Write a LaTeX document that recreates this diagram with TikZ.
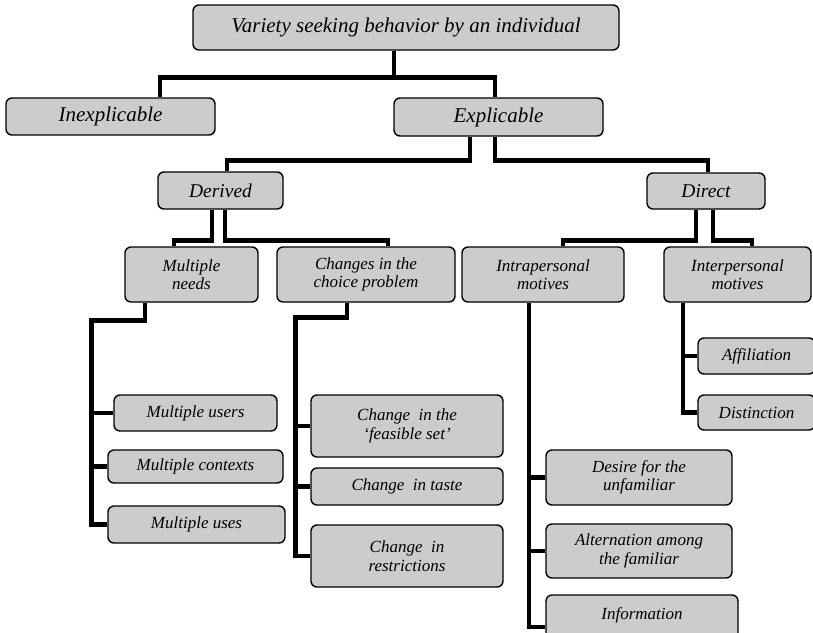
\documentclass[tikz,border=0pt]{standalone}
\usepackage{fontspec}
\setmainfont{Liberation Serif}
\usepackage{tikz}
\usetikzlibrary{positioning}

\tikzset{
  box/.style={draw=black, rounded corners=6pt, fill=black!20, line width=1.4pt,
    align=center, inner sep=0pt, font=\itshape\fontsize{17}{18.5}\selectfont},
  bigbox/.style={box, font=\itshape\fontsize{21}{23}\selectfont},
  midbox/.style={box, font=\itshape\fontsize{19.5}{21}\selectfont},
  conn/.style={line width=4.8pt, black}
}

\begin{document}
\begin{tikzpicture}[x=1pt,y=-1pt]
\useasboundingbox (0,0) rectangle (813,632);
\clip (0,0) rectangle (813,632);
\fill[white] (0,0) rectangle (813,632);

% top levels
\node[bigbox, minimum width=426, minimum height=45] (root) at (406,27.5) {Variety seeking behavior by an individual};
\node[bigbox, minimum width=209, minimum height=37] (inexp) at (110.5,116.5) {Inexplicable};
\node[bigbox, minimum width=209, minimum height=38] (expl) at (498.5,117) {Explicable};
\node[midbox, minimum width=125, minimum height=37] (derived) at (220.5,190.5) {Derived};
\node[midbox, minimum width=118, minimum height=36] (direct) at (706,191) {Direct};

% third level
\node[box, minimum width=133, minimum height=55] (mneeds) at (191.5,274.5) {Multiple\\needs};
\node[box, minimum width=178, minimum height=55] (changes) at (366,274.5) {Changes in the\\choice problem};
\node[box, minimum width=162, minimum height=55] (intra) at (543,274.5) {Intrapersonal\\motives};
\node[box, minimum width=147, minimum height=55] (inter) at (737.5,274.5) {Interpersonal\\motives};

% leaves
\node[box, minimum width=163, minimum height=36] (musers) at (195.5,413) {Multiple users};
\node[box, minimum width=175, minimum height=33] (mcontexts) at (195.5,466.5) {Multiple contexts};
\node[box, minimum width=177, minimum height=37] (muses) at (196.5,524.5) {Multiple uses};
\node[box, minimum width=192, minimum height=62] (cfeas) at (407,426) {Change\ \ in the\\`feasible set'};
\node[box, minimum width=192, minimum height=37] (ctaste) at (407,486.5) {Change\ \ in taste};
\node[box, minimum width=192, minimum height=62] (crestr) at (407,556) {Change\ \ in\\restrictions};
\node[box, minimum width=186, minimum height=55] (desire) at (639,477.5) {Desire for the\\unfamiliar};
\node[box, minimum width=186, minimum height=54] (altern) at (639,551) {Alternation among\\the familiar};
\node[box, minimum width=192, minimum height=64] (info) at (642,627) {Information\\[8pt]};
\node[box, minimum width=117, minimum height=36] (affil) at (756.5,356) {Affiliation};
\node[box, minimum width=117, minimum height=35] (distinct) at (756.5,412.5) {Distinction};

% connectors
\draw[conn] ([xshift=-12]root.south) -- ++(0,27) -| ([xshift=49.5]inexp.north);
\draw[conn] ([xshift=-12]root.south) -- ++(0,27) -| ([xshift=-3.5]expl.north);
\draw[conn] ([xshift=-28.5]expl.south) -- ++(0,24) -| ([xshift=6.5]derived.north);
\draw[conn] ([xshift=-3.5]expl.south) -- ++(0,24) -| ([xshift=2]direct.north);
\draw[conn] ([xshift=-8.5]derived.south) -- ++(0,31) -| ([xshift=-17.5]mneeds.north);
\draw[conn] ([xshift=4.5]derived.south) -- ++(0,31) -| ([xshift=22]changes.north);
\draw[conn] ([xshift=-10]direct.south) -- ++(0,31) -| ([xshift=20]intra.north);
\draw[conn] ([xshift=7]direct.south) -- ++(0,31) -| ([xshift=14.5]inter.north);

\draw[conn] ([xshift=-46.5]mneeds.south) -- ++(0,18) -| ([xshift=-16]muses.west) -- (muses.west);
\draw[conn] (musers.west) -- ++(-22,0);
\draw[conn] (mcontexts.west) -- ++(-16,0);

\draw[conn] ([xshift=-19]changes.south) -- ++(0,15) -| ([xshift=-15]crestr.west) -- (crestr.west);
\draw[conn] (cfeas.west) -- ++(-15,0);
\draw[conn] (ctaste.west) -- ++(-15,0);

\draw[conn] ([xshift=-14]intra.south) |- (info.west);
\draw[conn] (desire.west) -- ++(-17,0);
\draw[conn] (altern.west) -- ++(-17,0);

\draw[conn] ([xshift=-54.5]inter.south) |- (distinct.west);
\draw[conn] (affil.west) -- ++(-15,0);
\end{tikzpicture}
\end{document}
